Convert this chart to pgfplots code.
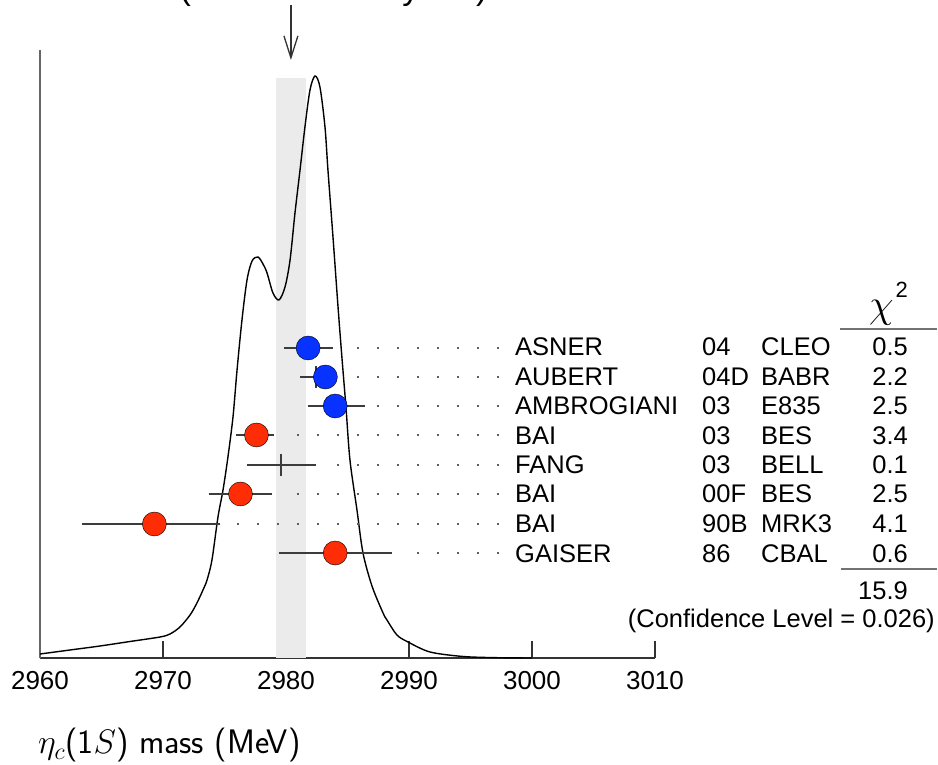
\RequirePackage{fix-cm}
\documentclass[border=0pt]{standalone}
\usepackage{fontspec}
\setmainfont{Liberation Sans}
\usepackage{pgfplots}
\pgfplotsset{compat=1.18}
\usetikzlibrary{arrows.meta}

\definecolor{mblue}{RGB}{8,50,255}
\definecolor{mred}{RGB}{255,45,5}
\definecolor{bandgray}{RGB}{235,235,235}
\definecolor{barc}{RGB}{60,60,60}
\definecolor{dotc}{RGB}{95,95,95}

\newcommand\tabfont{\fontsize{25.5}{30}\selectfont}

\begin{document}
\begin{tikzpicture}
\begin{axis}[
  at={(0pt,0pt)}, anchor=south west,
  scale only axis, width=615pt, height=608pt,
  xmin=2960, xmax=3010, ymin=0, ymax=608,
  axis x line=bottom, axis y line=left,
  axis line style={-},
  x axis line style={draw=black!80, line width=1.3pt},
  y axis line style={draw=black!60, line width=1.6pt},
  xtick={2960,2970,...,3010}, ytick=\empty,
  xtick align=inside, major tick length=17pt,
  tick style={black!80, line width=1.2pt},
  /pgf/number format/.cd, set thousands separator={}, assume math mode=true,
  /pgfplots/.cd,
  xticklabel style={font=\fontsize{26}{30}\selectfont, yshift=-10pt},
  clip=false,
]
% weighted average band
\addplot[fill=bandgray, draw=none] coordinates {(2979.2,580) (2981.6,580)} \closedcycle;

% ideogram
\addplot[black, line width=1.4pt, smooth, tension=0.5] coordinates {
 (2960.00,4) (2962.44,8) (2964.88,12) (2967.32,16.5) (2969.76,21)
 (2970.57,24) (2971.38,31) (2972.20,43) (2972.76,55) (2973.25,68)
 (2973.58,78) (2973.98,98) (2974.47,141) (2974.88,168) (2975.28,201)
 (2975.69,241) (2976.02,288) (2976.42,338) (2976.83,378) (2977.24,397)
 (2977.72,401) (2978.13,394) (2978.46,385) (2978.94,365) (2979.43,358)
 (2979.92,371) (2980.33,398) (2980.73,445) (2981.14,488) (2981.54,531)
 (2981.95,568) (2982.36,582) (2982.76,571) (2983.17,531) (2983.41,488)
 (2983.82,421) (2984.23,351) (2984.55,300) (2984.88,250) (2985.20,198)
 (2985.77,148) (2986.26,105) (2986.99,72) (2987.89,45) (2988.21,38)
 (2989.02,23) (2989.92,16) (2991.71,6) (2994.39,1.5) (2997.15,0.3) (3000,0)
};

% dotted leaders
\pgfplotsset{leader/.style={dotc, line width=2pt, dash pattern=on 2pt off 18pt}}
\addplot[leader] coordinates {(2985.772,310) (2997.4,310)};
\addplot[leader] coordinates {(2985.772,281) (2997.4,281)};
\addplot[leader] coordinates {(2987.398,252) (2997.4,252)};
\addplot[leader] coordinates {(2980.894,223) (2997.4,223)};
\addplot[leader] coordinates {(2984.146,193) (2997.4,193)};
\addplot[leader] coordinates {(2980.894,164) (2997.4,164)};
\addplot[leader] coordinates {(2976.016,134) (2997.4,134)};
\addplot[leader] coordinates {(2990.650,105) (2997.4,105)};

% error bars
\pgfplotsset{ebar/.style={barc, line width=2pt}}
\addplot[ebar] coordinates {(2979.8,310) (2983.8,310)};
\addplot[ebar] coordinates {(2981.1,281) (2983.9,281)};
\addplot[ebar] coordinates {(2981.8,252) (2986.4,252)};
\addplot[ebar] coordinates {(2975.9,223) (2979.0,223)};
\addplot[ebar] coordinates {(2976.8,193) (2982.4,193)};
\addplot[ebar] coordinates {(2973.7,164) (2978.9,164)};
\addplot[ebar] coordinates {(2963.4,134) (2974.6,134)};
\addplot[ebar] coordinates {(2979.4,105) (2988.6,105)};
\addplot[only marks, mark=|, mark size=11pt, mark options={barc, line width=2pt}]
  coordinates {(2979.6,193) (2982.4,281)};

% central values
\addplot[only marks, mark=*, mark size=12pt, mark options={draw=none, fill=mblue}]
  coordinates {(2981.8,310) (2983.2,281) (2984.0,252)};
\addplot[only marks, mark=*, mark size=12pt, mark options={draw=none, fill=mred}]
  coordinates {(2977.6,223) (2976.3,164) (2969.3,134) (2984.0,105)};

% average marker
\draw[-{Straight Barb[length=22pt,width=14pt]}, line width=1.3pt, black!80]
  (axis cs:2980.4,653) -- (axis cs:2980.4,598);
\end{axis}

\begin{scope}[x=1pt, y=-1pt, shift={(-40pt,658pt)}]
  \node[anchor=base west, inner sep=0, font=\fontsize{34}{40}\selectfont] at (0,-0.5)
    {2980.4±1.2 (Error scaled by 1.5)};

  \node[anchor=base west, inner sep=0, font=\fontsize{34}{38}\selectfont] at (38,754)
    {$\eta_c$\textsf{(1}$S$\textsf{) mass (MeV)}};

  % table of measurements
  \foreach \yy/\na/\yr/\ex/\cs in {356/ASNER/04/CLEO/0.5, 386/AUBERT/04D/BABR/2.2,
      415/AMBROGIANI/03/E835/2.5, 445/BAI/03/BES/3.4, 474/FANG/03/BELL/0.1,
      503/BAI/00F/BES/2.5, 533/BAI/90B/MRK3/4.1, 563/GAISER/86/CBAL/0.6} {
    \node[anchor=base west, inner sep=0, font=\tabfont] at (515,\yy) {\na};
    \node[anchor=base west, inner sep=0, font=\tabfont] at (702,\yy) {\yr};
    \node[anchor=base west, inner sep=0, font=\tabfont] at (761,\yy) {\ex};
    \node[anchor=base east, inner sep=0, font=\tabfont] at (908,\yy) {\cs};
  }
  \node[anchor=base west, inner sep=0] at (869,318)
    {\fontsize{40}{44}\selectfont$\chi$\kern2pt\raisebox{20pt}{\fontsize{22}{24}\selectfont 2}};
  \draw[line width=1.3pt, black!55] (840,329) -- (937,329);
  \draw[line width=1.3pt, black!55] (841,569) -- (937,569);
  \node[anchor=base east, inner sep=0, font=\tabfont] at (908,600) {15.9};
  \node[anchor=base east, inner sep=0, font=\tabfont] at (935,628) {(Confidence Level = 0.026)};

  \pgfresetboundingbox
  \path[use as bounding box] (0,0) rectangle (938,765);
\end{scope}
\end{tikzpicture}
\end{document}
